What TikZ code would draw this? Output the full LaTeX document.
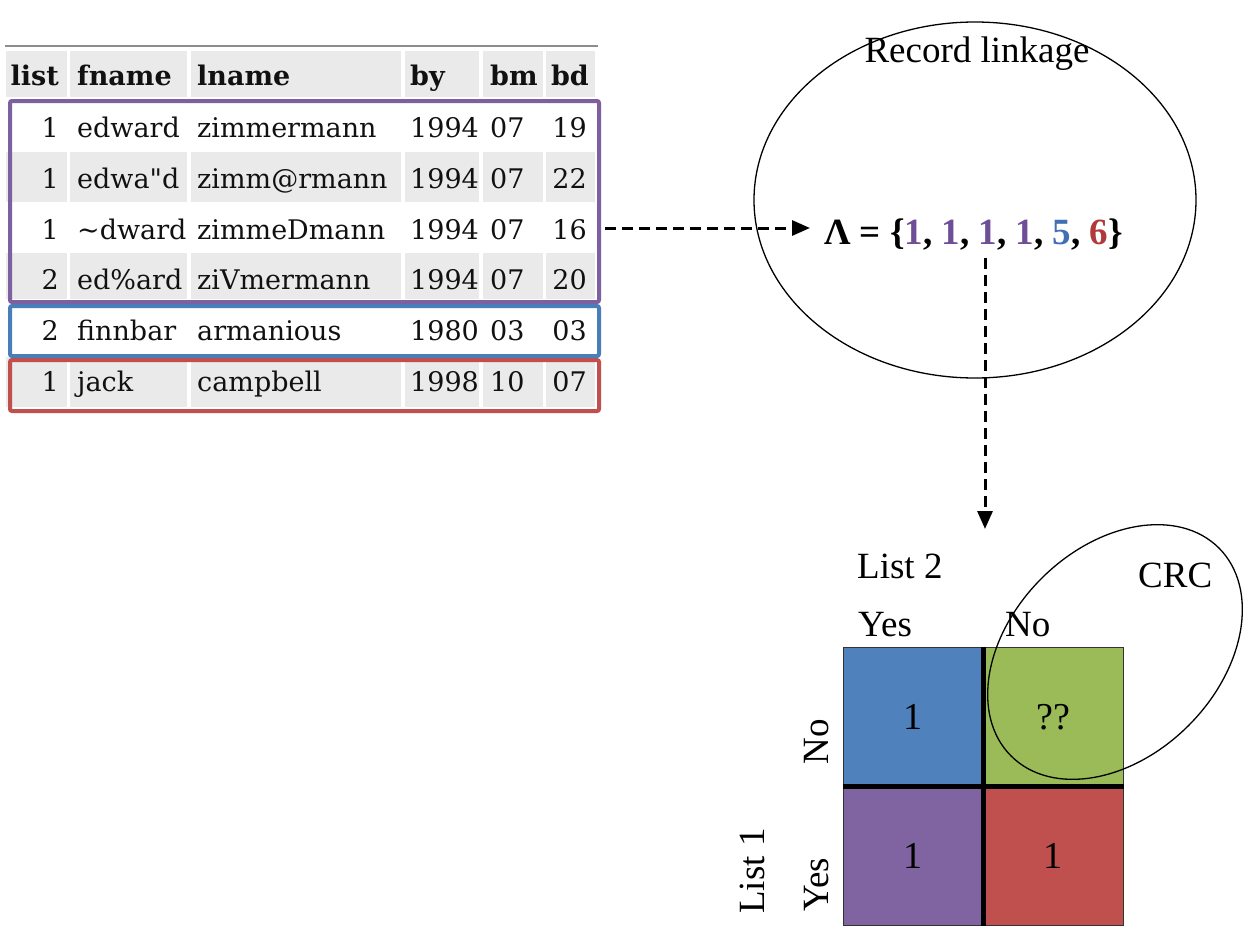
\documentclass[tikz,border=0pt]{standalone}
\usepackage{fontspec}
\setmainfont{Liberation Serif}
\newfontfamily\tabfont{DejaVu Serif}
\usetikzlibrary{arrows.meta}
\definecolor{cpurple}{HTML}{8064A2}
\definecolor{cblue}{HTML}{4F81BD}
\definecolor{cred}{HTML}{C0504D}
\definecolor{cgreen}{HTML}{9BBB59}
\definecolor{bpurple}{HTML}{7E5FA0}
\definecolor{bblue}{HTML}{4A7EBB}
\definecolor{bred}{HTML}{C0504D}
\definecolor{lpurple}{HTML}{6E4E96}
\definecolor{lblue}{HTML}{3E70B3}
\definecolor{lred}{HTML}{B03A3A}
\definecolor{cellgray}{HTML}{EAEAEA}
\definecolor{txt}{HTML}{111111}
\tikzset{
  tcell/.style={font=\tabfont\fontsize{27}{27}\selectfont, text=txt, inner sep=0pt, anchor=base west},
  tcellr/.style={tcell, anchor=base east},
  thead/.style={tcell, font=\tabfont\bfseries\fontsize{27}{27}\selectfont},
  theadr/.style={thead, anchor=base east},
  grpbox/.style={line width=4pt, rounded corners=2pt, inner sep=0pt, anchor=north west, minimum width=589pt},
  big/.style={font=\fontsize{37}{37}\selectfont, inner sep=0pt},
  dasharr/.style={line width=3pt, dash pattern=on 11pt off 6pt, -{Triangle[length=18pt,width=15pt]}},
  mcell/.style={draw=black!80, line width=1pt, minimum width=140pt, inner sep=0pt, font=\fontsize{38}{38}\selectfont},
}
\begin{document}
\begin{tikzpicture}[x=1pt,y=-1pt]
\useasboundingbox (0,0) rectangle (1251,929);
% table background
\draw[line width=2pt, black!45] (5,46) -- (598,46);
\foreach \xa/\xb in {6/67,70/187,191/401,405/479,483/543,546/595}{
  \foreach \ya/\yb in {51/97,152/202,253/299,357/407}{
    \fill[cellgray] (\xa,\ya) rectangle (\xb,\yb);
  }
}
% header
\node[theadr] (h1) at (59,85) {list};
\node[thead] (h2) at (77,85) {fname};
\node[thead] (h3) at (197,85) {lname};
\node[thead] (h4) at (410,85) {by};
\node[thead] (h5) at (490,85) {bm};
\node[theadr] (h6) at (589,85) {bd};
% rows
\foreach \yy/\a/\b/\c/\d/\e/\f in {
  137/1/edward/zimmermann/1994/07/19,
  188/1/edwa"d/zimm@rmann/1994/07/22,
  239/1/\textasciitilde dward/zimmeDmann/1994/07/16,
  289/2/ed\%ard/ziVmermann/1994/07/20,
  340/2/finnbar/armanious/1980/03/03,
  391/1/jack/campbell/1998/10/07}{
  \node[tcellr] at (59,\yy) {\a};
  \node[tcell] at (77,\yy) {\b};
  \node[tcell] at (197,\yy) {\c};
  \node[tcell] at (410,\yy) {\d};
  \node[tcell] at (490,\yy) {\e};
  \node[tcellr] at (587,\yy) {\f};
}
% group boxes
\node[grpbox, draw=bpurple, minimum height=201pt] (pbox) at (8,99) {};
\node[grpbox, draw=bblue, minimum height=50pt] (bbox) at (8,304) {};
\node[grpbox, draw=bred, minimum height=51pt] (rbox) at (8,358) {};
% record linkage ellipse
\draw[line width=1.3pt] (975,200) ellipse [x radius=221pt, y radius=178pt];
\node[big, anchor=base] (rl) at (977,62) {Record linkage};
\node[big, font=\fontsize{37}{37}\selectfont\bfseries, anchor=base west] (lam) at (824,244)
  {Λ = \{\textcolor{lpurple}{1}, \textcolor{lpurple}{1}, \textcolor{lpurple}{1}, \textcolor{lpurple}{1}, \textcolor{lblue}{5}, \textcolor{lred}{6}\}};
\coordinate (a1s) at (605,228);
\coordinate (a1e) at (810,228);
\draw[dasharr] (a1s) -- (a1e);
\coordinate (a2s) at (985,258);
\coordinate (a2e) at (985,529);
\draw[dasharr] (a2s) -- (a2e);
% matrix
\node[mcell, fill=cblue, minimum height=140pt] (c11) at (913,717) {1};
\node[mcell, fill=cgreen, minimum height=140pt] (c12) at (1053,717) {??};
\node[mcell, fill=cpurple, minimum height=138pt] (c21) at (913,856) {1};
\node[mcell, fill=cred, minimum height=138pt] (c22) at (1053,856) {1};
\draw[line width=4.5pt] (c11.north east) -- (c21.south east);
\draw[line width=4.5pt] (c21.north west) -- (c22.north east);
% labels
\node[big, anchor=base west] (l2) at (857,578) {List 2};
\node[big, anchor=base west] (y2) at (858,636) {Yes};
\node[big, anchor=base west] (n2) at (1005,636) {No};
\node[big, anchor=base west] (crc) at (1138,587) {CRC};
\node[big, anchor=base, rotate=90] (n1) at (828,742) {No};
\node[big, anchor=base, rotate=90] (y1) at (828,885) {Yes};
\node[big, anchor=base, rotate=90] (l1) at (764,871) {List 1};
% CRC ellipse
\draw[line width=1.3pt, rotate around={45:(1115,652)}] (1115,652) ellipse [x radius=147pt, y radius=104pt];
\end{tikzpicture}
\end{document}
